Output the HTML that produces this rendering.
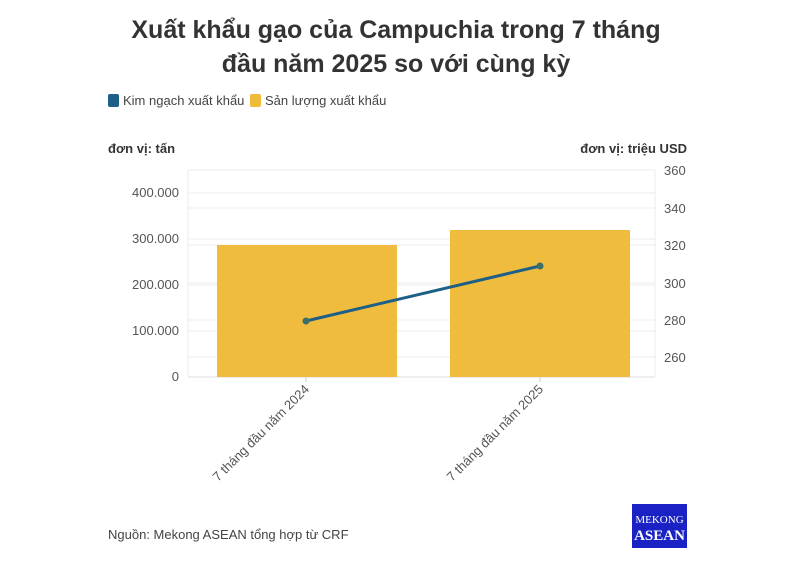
<!DOCTYPE html>
<html><head><meta charset="utf-8"><style>
body{margin:0;background:#fff;width:793px;height:575px;overflow:hidden;font-family:"Liberation Sans",sans-serif;}
</style></head><body>
<svg width="793" height="575" xmlns="http://www.w3.org/2000/svg" font-family="Liberation Sans, sans-serif">
<text x="396" y="38" text-anchor="middle" font-size="25" font-weight="bold" fill="#333">Xuất khẩu gạo của Campuchia trong 7 tháng</text>
<text x="396" y="72" text-anchor="middle" font-size="25" font-weight="bold" fill="#333">đầu năm 2025 so với cùng kỳ</text>
<rect x="108" y="94" width="11" height="13" rx="2" fill="#1d5f86"/>
<text x="123" y="105" font-size="13" fill="#444">Kim ngạch xuất khẩu</text>
<rect x="250" y="94" width="11" height="13" rx="2" fill="#f0bb3a"/>
<text x="265" y="105" font-size="13" fill="#444">Sản lượng xuất khẩu</text>
<text x="108" y="153" font-size="13" font-weight="bold" fill="#333">đơn vị: tấn</text>
<text x="687" y="153" text-anchor="end" font-size="13" font-weight="bold" fill="#333">đơn vị: triệu USD</text>
<g stroke="#ececec" stroke-width="1">
<line x1="188" y1="170" x2="655" y2="170"/>
<line x1="188" y1="193" x2="655" y2="193"/><line x1="188" y1="239" x2="655" y2="239"/>
<line x1="188" y1="285" x2="655" y2="285"/><line x1="188" y1="331" x2="655" y2="331"/>
<line x1="188" y1="208" x2="655" y2="208"/><line x1="188" y1="245" x2="655" y2="245"/>
<line x1="188" y1="283" x2="655" y2="283"/><line x1="188" y1="320" x2="655" y2="320"/>
<line x1="188" y1="357" x2="655" y2="357"/>
<line x1="188" y1="170" x2="188" y2="377"/><line x1="655" y1="170" x2="655" y2="377"/>
</g>
<line x1="188" y1="377" x2="655" y2="377" stroke="#ddd"/>
<rect x="217" y="245" width="180" height="132" fill="#f0bc3e"/>
<rect x="450" y="230" width="180" height="147" fill="#f0bc3e"/>
<line x1="306" y1="321" x2="540" y2="266" stroke="#1d5f86" stroke-width="3"/>
<circle cx="306" cy="321" r="3.5" fill="#3c6e6a"/><circle cx="540" cy="266" r="3.5" fill="#3c6e6a"/>
<g font-size="13" fill="#555" text-anchor="end">
<text x="179" y="197">400.000</text><text x="179" y="243">300.000</text>
<text x="179" y="289">200.000</text><text x="179" y="335">100.000</text><text x="179" y="381">0</text>
</g>
<g font-size="13" fill="#555">
<text x="664" y="175">360</text><text x="664" y="213">340</text><text x="664" y="250">320</text>
<text x="664" y="288">300</text><text x="664" y="325">280</text><text x="664" y="362">260</text>
</g>
<line x1="306" y1="377" x2="306" y2="382" stroke="#ccc"/><line x1="540" y1="377" x2="540" y2="382" stroke="#ccc"/>
<text transform="translate(310,390) rotate(-45)" text-anchor="end" font-size="13" fill="#555">7 tháng đầu năm 2024</text>
<text transform="translate(544,390) rotate(-45)" text-anchor="end" font-size="13" fill="#555">7 tháng đầu năm 2025</text>
<text x="108" y="539" font-size="13" fill="#444">Nguồn: Mekong ASEAN tổng hợp từ CRF</text>
<rect x="632" y="504" width="55" height="44" fill="#1b22c4"/>
<text x="659.5" y="523" text-anchor="middle" font-family="Liberation Serif, serif" font-size="11" fill="#fff">MEKONG</text>
<text x="659.5" y="540" text-anchor="middle" font-family="Liberation Serif, serif" font-size="15" font-weight="bold" fill="#fff">ASEAN</text>
</svg>
</body></html>
